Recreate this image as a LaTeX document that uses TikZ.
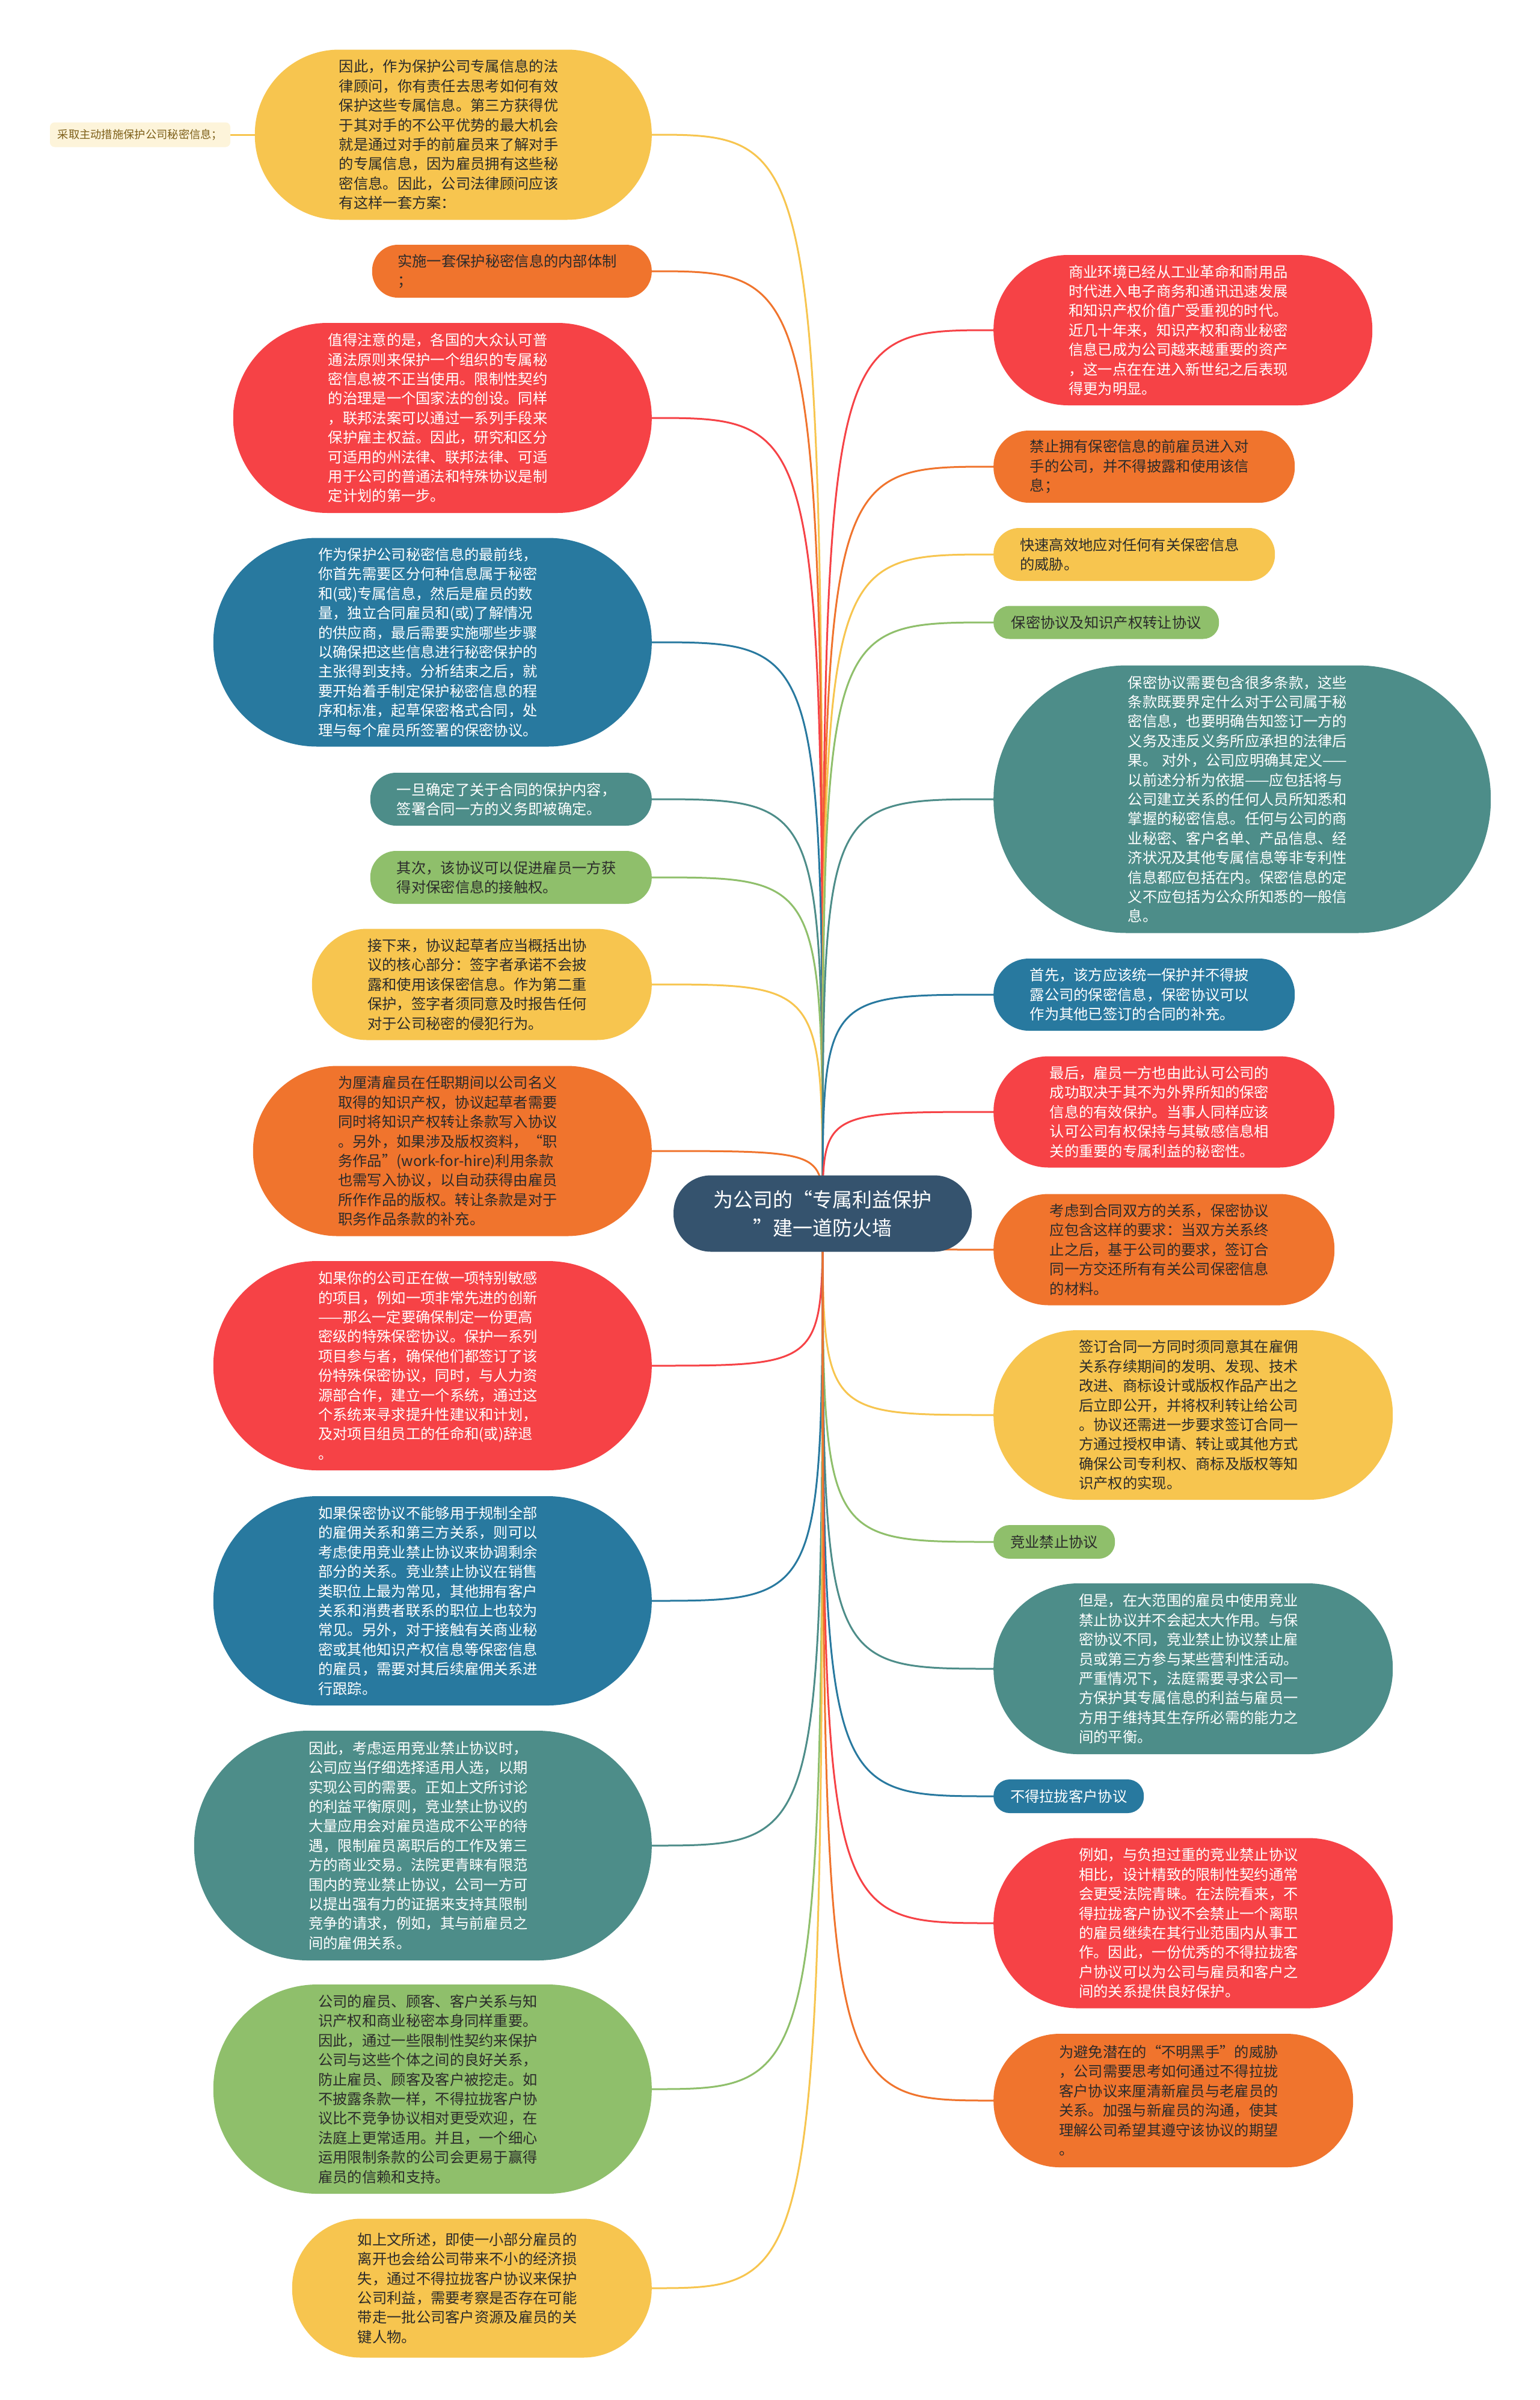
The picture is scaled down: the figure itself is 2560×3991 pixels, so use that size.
\documentclass[tikz,border=0pt]{standalone}
\usepackage{fontspec}
\setmainfont{Noto Sans CJK SC}
\usetikzlibrary{backgrounds}
\definecolor{cyellow}{HTML}{F7C54F}
\definecolor{corange}{HTML}{F0742D}
\definecolor{cred}{HTML}{F64246}
\definecolor{cblue}{HTML}{28799F}
\definecolor{cteal}{HTML}{4D8D89}
\definecolor{cgreen}{HTML}{8FBF6B}
\definecolor{cnavy}{HTML}{35536E}
\definecolor{ccream}{HTML}{FDF4DA}
\definecolor{cbrown}{HTML}{7D5F18}
\definecolor{cink}{HTML}{2B2B2B}
\newcommand{\leaffont}{\fontsize{24.3pt}{32.4pt}\selectfont}
\tikzset{
  pill/.code 2 args={%
    \pgfmathsetlengthmacro\pillrad{#2/2-1}%
    \tikzset{minimum width=#1pt, minimum height=#2pt}%
    \edef\pillset{\noexpand\tikzset{rounded corners=\pillrad}}\pillset},
  leaf/.style={align=left, text width=380pt, inner sep=2pt, font=\leaffont},
  tag/.style={inner sep=2pt, font=\leaffont},
  yellowbox/.style={fill=cyellow, text=cink},
  orangebox/.style={fill=corange, text=cink},
  redbox/.style={fill=cred, text=white},
  bluebox/.style={fill=cblue, text=white},
  tealbox/.style={fill=cteal, text=white},
  greenbox/.style={fill=cgreen, text=cink},
  rootbox/.style={fill=cnavy, text=white, align=center, font=\fontsize{33pt}{47pt}\selectfont, pill={496}{127}},
  notebox/.style={fill=ccream, text=cbrown, rounded corners=8pt, minimum width=300pt, minimum height=41pt, font=\fontsize{18.3pt}{22pt}\selectfont},
  link/.style={draw=#1, line width=3pt},
}
\begin{document}
\begin{tikzpicture}[x=1pt, y=-1pt]
  \useasboundingbox (0,0) rectangle (2560,3991);
  % root
  \node[rootbox] (c) at (1368,2018) {为公司的“专属利益保护\\”建一道防火墙};
  % left branch
  \node[leaf, yellowbox, pill={660}{283}, anchor=east] (l1) at (1084,224) {因此，作为保护公司专属信息的法\\
律顾问，你有责任去思考如何有效\\
保护这些专属信息。第三方获得优\\
于其对手的不公平优势的最大机会\\
就是通过对手的前雇员来了解对手\\
的专属信息，因为雇员拥有这些秘\\
密信息。因此，公司法律顾问应该\\
有这样一套方案：};
  \node[notebox] (l0) at (233,224) {采取主动措施保护公司秘密信息；};
  \node[leaf, orangebox, pill={465}{88}, anchor=east] (l2) at (1084,451) {实施一套保护秘密信息的内部体制\\
；};
  \node[leaf, redbox, pill={696}{316}, anchor=east] (l3) at (1084,695) {值得注意的是，各国的大众认可普\\
通法原则来保护一个组织的专属秘\\
密信息被不正当使用。限制性契约\\
的治理是一个国家法的创设。同样\\
，联邦法案可以通过一系列手段来\\
保护雇主权益。因此，研究和区分\\
可适用的州法律、联邦法律、可适\\
用于公司的普通法和特殊协议是制\\
定计划的第一步。};
  \node[leaf, bluebox, pill={729}{347}, anchor=east] (l4) at (1084,1068) {作为保护公司秘密信息的最前线，\\
你首先需要区分何种信息属于秘密\\
和(或)专属信息，然后是雇员的数\\
量，独立合同雇员和(或)了解情况\\
的供应商，最后需要实施哪些步骤\\
以确保把这些信息进行秘密保护的\\
主张得到支持。分析结束之后，就\\
要开始着手制定保护秘密信息的程\\
序和标准，起草保密格式合同，处\\
理与每个雇员所签署的保密协议。};
  \node[leaf, tealbox, pill={468}{88}, anchor=east] (l5) at (1084,1329) {一旦确定了关于合同的保护内容，\\
签署合同一方的义务即被确定。};
  \node[leaf, greenbox, pill={468}{88}, anchor=east] (l6) at (1084,1459) {其次，该协议可以促进雇员一方获\\
得对保密信息的接触权。};
  \node[leaf, yellowbox, pill={565}{185}, anchor=east] (l7) at (1084,1637) {接下来，协议起草者应当概括出协\\
议的核心部分：签字者承诺不会披\\
露和使用该保密信息。作为第二重\\
保护，签字者须同意及时报告任何\\
对于公司秘密的侵犯行为。};
  \node[leaf, orangebox, pill={663}{283}, anchor=east] (l8) at (1084,1914) {为厘清雇员在任职期间以公司名义\\
取得的知识产权，协议起草者需要\\
同时将知识产权转让条款写入协议\\
。另外，如果涉及版权资料，“职\\
\mbox{务作品”(work-for-hire)利用条款}\\
也需写入协议，以自动获得由雇员\\
所作作品的版权。转让条款是对于\\
职务作品条款的补充。};
  \node[leaf, redbox, pill={729}{348}, anchor=east] (l9) at (1084,2271) {如果你的公司正在做一项特别敏感\\
的项目，例如一项非常先进的创新\\
——那么一定要确保制定一份更高\\
密级的特殊保密协议。保护一系列\\
项目参与者，确保他们都签订了该\\
份特殊保密协议，同时，与人力资\\
源部合作，建立一个系统，通过这\\
个系统来寻求提升性建议和计划，\\
及对项目组员工的任命和(或)辞退\\
。};
  \node[leaf, bluebox, pill={729}{348}, anchor=east] (l10) at (1084,2662) {如果保密协议不能够用于规制全部\\
的雇佣关系和第三方关系，则可以\\
考虑使用竞业禁止协议来协调剩余\\
部分的关系。竞业禁止协议在销售\\
类职位上最为常见，其他拥有客户\\
关系和消费者联系的职位上也较为\\
常见。另外，对于接触有关商业秘\\
密或其他知识产权信息等保密信息\\
的雇员，需要对其后续雇佣关系进\\
行跟踪。};
  \node[leaf, tealbox, pill={761}{382}, anchor=east] (l11) at (1084,3069) {因此，考虑运用竞业禁止协议时，\\
公司应当仔细选择适用人选，以期\\
实现公司的需要。正如上文所讨论\\
的利益平衡原则，竞业禁止协议的\\
大量应用会对雇员造成不公平的待\\
遇，限制雇员离职后的工作及第三\\
方的商业交易。法院更青睐有限范\\
围内的竞业禁止协议，公司一方可\\
以提出强有力的证据来支持其限制\\
竞争的请求，例如，其与前雇员之\\
间的雇佣关系。};
  \node[leaf, greenbox, pill={729}{348}, anchor=east] (l12) at (1084,3474) {公司的雇员、顾客、客户关系与知\\
识产权和商业秘密本身同样重要。\\
因此，通过一些限制性契约来保护\\
公司与这些个体之间的良好关系，\\
防止雇员、顾客及客户被挖走。如\\
不披露条款一样，不得拉拢客户协\\
议比不竞争协议相对更受欢迎，在\\
法庭上更常适用。并且，一个细心\\
运用限制条款的公司会更易于赢得\\
雇员的信赖和支持。};
  \node[leaf, yellowbox, pill={598}{231}, anchor=east] (l13) at (1084,3805) {如上文所述，即使一小部分雇员的\\
离开也会给公司带来不小的经济损\\
失，通过不得拉拢客户协议来保护\\
公司利益，需要考察是否存在可能\\
带走一批公司客户资源及雇员的关\\
键人物。};
  % right branch
  \node[leaf, redbox, pill={630}{250}, anchor=west] (r1) at (1652,549) {商业环境已经从工业革命和耐用品\\
时代进入电子商务和通讯迅速发展\\
和知识产权价值广受重视的时代。\\
近几十年来，知识产权和商业秘密\\
信息已成为公司越来越重要的资产\\
，这一点在在进入新世纪之后表现\\
得更为明显。};
  \node[leaf, orangebox, pill={501}{120}, anchor=west] (r2) at (1652,776) {禁止拥有保密信息的前雇员进入对\\
手的公司，并不得披露和使用该信\\
息；};
  \node[leaf, yellowbox, pill={468}{88}, anchor=west] (r3) at (1652,922) {快速高效地应对任何有关保密信息\\
的威胁。};
  \node[tag, greenbox, pill={375}{55}, anchor=west] (r4) at (1652,1035) {保密协议及知识产权转让协议};
  \node[leaf, tealbox, pill={827}{445}, anchor=west] (r5) at (1652,1329) {保密协议需要包含很多条款，这些\\
条款既要界定什么对于公司属于秘\\
密信息，也要明确告知签订一方的\\
义务及违反义务所应承担的法律后\\
\mbox{果。 对外，公司应明确其定义——}\\
以前述分析为依据——应包括将与\\
公司建立关系的任何人员所知悉和\\
掌握的秘密信息。任何与公司的商\\
业秘密、客户名单、产品信息、经\\
济状况及其他专属信息等非专利性\\
信息都应包括在内。保密信息的定\\
义不应包括为公众所知悉的一般信\\
息。};
  \node[leaf, bluebox, pill={501}{120}, anchor=west] (r6) at (1652,1654) {首先，该方应该统一保护并不得披\\
露公司的保密信息，保密协议可以\\
作为其他已签订的合同的补充。};
  \node[leaf, redbox, pill={567}{185}, anchor=west] (r7) at (1652,1849) {最后，雇员一方也由此认可公司的\\
成功取决于其不为外界所知的保密\\
信息的有效保护。当事人同样应该\\
认可公司有权保持与其敏感信息相\\
关的重要的专属利益的秘密性。};
  \node[leaf, orangebox, pill={567}{185}, anchor=west] (r8) at (1652,2078) {考虑到合同双方的关系，保密协议\\
应包含这样的要求：当双方关系终\\
止之后，基于公司的要求，签订合\\
同一方交还所有有关公司保密信息\\
的材料。};
  \node[leaf, yellowbox, pill={664}{282}, anchor=west] (r9) at (1652,2353) {签订合同一方同时须同意其在雇佣\\
关系存续期间的发明、发现、技术\\
改进、商标设计或版权作品产出之\\
后立即公开，并将权利转让给公司\\
。协议还需进一步要求签订合同一\\
方通过授权申请、转让或其他方式\\
确保公司专利权、商标及版权等知\\
识产权的实现。};
  \node[tag, greenbox, pill={202}{56}, anchor=west] (r10) at (1652,2564) {竞业禁止协议};
  \node[leaf, tealbox, pill={664}{284}, anchor=west] (r11) at (1652,2775) {但是，在大范围的雇员中使用竞业\\
禁止协议并不会起太大作用。与保\\
密协议不同，竞业禁止协议禁止雇\\
员或第三方参与某些营利性活动。\\
严重情况下，法庭需要寻求公司一\\
方保护其专属信息的利益与雇员一\\
方用于维持其生存所必需的能力之\\
间的平衡。};
  \node[tag, bluebox, pill={250}{56}, anchor=west] (r12) at (1652,2987) {不得拉拢客户协议};
  \node[leaf, redbox, pill={664}{283}, anchor=west] (r13) at (1652,3198) {例如，与负担过重的竞业禁止协议\\
相比，设计精致的限制性契约通常\\
会更受法院青睐。在法院看来，不\\
得拉拢客户协议不会禁止一个离职\\
的雇员继续在其行业范围内从事工\\
作。因此，一份优秀的不得拉拢客\\
户协议可以为公司与雇员和客户之\\
间的关系提供良好保护。};
  \node[leaf, orangebox, pill={598}{222}, anchor=west] (r14) at (1652,3493) {为避免潜在的“不明黑手”的威胁\\
，公司需要思考如何通过不得拉拢\\
客户协议来厘清新雇员与老雇员的\\
关系。加强与新雇员的沟通，使其\\
理解公司希望其遵守该协议的期望\\
。};
  % links
  \begin{scope}[on background layer]
    \fill[white] (0,0) rectangle (2560,3991);
    \draw[link=cyellow] (l1.west) -- (l0.east);
    \foreach \n/\col in {l1/cyellow, l2/corange, l3/cred, l4/cblue, l5/cteal, l6/cgreen, l7/cyellow, l8/corange, l9/cred, l10/cblue, l11/cteal, l12/cgreen, l13/cyellow}
      \draw[link=\col] (c.center) .. controls (c.center |- \n.east) .. (\n.east);
    \foreach \n/\col in {r1/cred, r2/corange, r3/cyellow, r4/cgreen, r5/cteal, r6/cblue, r7/cred, r8/corange, r9/cyellow, r10/cgreen, r11/cteal, r12/cblue, r13/cred, r14/corange}
      \draw[link=\col] (c.center) .. controls (c.center |- \n.west) .. (\n.west);
  \end{scope}
\end{tikzpicture}
\end{document}
